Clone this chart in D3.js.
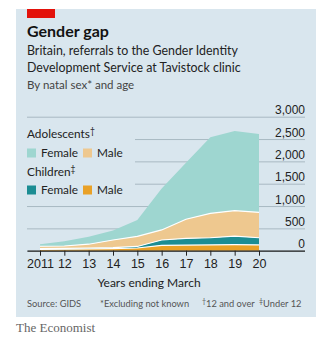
<!DOCTYPE html>
<html>
<head>
<meta charset="utf-8">
<script src="https://cdn.jsdelivr.net/npm/d3@7"></script>
<style>
  body { margin: 0; background: #fff; }
  svg { display: block; font-family: Lato, "Open Sans", sans-serif; }
</style>
</head>
<body>
<div id="chart"></div>
<script>
// referrals per year ending March, excluding sex not known
var years = [2011, 2012, 2013, 2014, 2015, 2016, 2017, 2018, 2019, 2020];
var yearLabels = ["2011", "12", "13", "14", "15", "16", "17", "18", "19", "20"];
var childMale = [30, 35, 40, 45, 60, 120, 125, 130, 135, 130];
var childFemale = [15, 15, 20, 25, 35, 120, 150, 160, 190, 160];
var adolMale = [55, 55, 85, 170, 225, 225, 430, 545, 570, 570];
var adolFemale = [45, 105, 165, 210, 370, 925, 1265, 1705, 1785, 1750];
var yTicks = [0, 500, 1000, 1500, 2000, 2500, 3000];

var keys = ["childMale", "childFemale", "adolMale", "adolFemale"];
var colors = { childMale: "#e9a127", childFemale: "#1c8d93", adolMale: "#eec88f", adolFemale: "#9ed6d0" };

var rows = years.map(function (y, i) {
	return { year: y, childMale: childMale[i], childFemale: childFemale[i], adolMale: adolMale[i], adolFemale: adolFemale[i] };
});

var W = 332, H = 353, bg = "#d9e6ee";
var svg = d3.select("#chart").append("svg").attr("width", W).attr("height", H);

// panel
svg.append("rect").attr("x", 16).attr("y", 9).attr("width", 300).attr("height", 308).attr("fill", bg);
svg.append("rect").attr("x", 27).attr("y", 9).attr("width", 28).attr("height", 9).attr("fill", "#e3120b");

svg.append("text").attr("x", 27).attr("y", 37).attr("font-size", 16).attr("font-weight", 700)
	.attr("fill", "#121212").text("Gender gap");
svg.append("text").attr("x", 27).attr("y", 55).attr("font-size", 12.4).attr("fill", "#222")
	.text("Britain, referrals to the Gender Identity");
svg.append("text").attr("x", 27).attr("y", 72).attr("font-size", 12.4).attr("fill", "#222")
	.text("Development Service at Tavistock clinic");
svg.append("text").attr("x", 27).attr("y", 89).attr("font-size", 11.5).attr("fill", "#444")
	.text("By natal sex* and age");

var x = d3.scaleLinear().domain([2011, 2020]).range([40, 259]);
var y = d3.scaleLinear().domain([0, 3000]).range([250.7, 116.7]);

// gridlines with labels sitting above them on the right
var grid = svg.append("g").attr("transform", "translate(305,0)")
	.call(d3.axisLeft(y).tickValues(yTicks).tickSize(278).tickFormat(d3.format(",")));
grid.select(".domain").remove();
grid.selectAll("line").attr("stroke", "#a9b9c3").attr("stroke-width", 1);
grid.selectAll("text").attr("x", 0).attr("dy", -3).attr("text-anchor", "end")
	.attr("font-size", 12).attr("fill", "#222").attr("font-family", null);

// clear the gridlines behind the legend
svg.append("rect").attr("x", 22).attr("y", 124).attr("width", 113).attr("height", 74).attr("fill", bg);

var series = d3.stack().keys(keys)(rows);

var area = d3.area()
	.x(function (d) { return x(d.data.year); })
	.y0(function (d) { return y(d[0]); })
	.y1(function (d) { return y(d[1]); });

svg.append("g").selectAll("path").data(series).enter().append("path")
	.attr("d", area)
	.attr("fill", function (d) { return colors[d.key]; });

var edge = d3.line()
	.x(function (d) { return x(d.data.year); })
	.y(function (d) { return y(d[1]); });

svg.append("g").selectAll("path").data(series.slice(0, 3)).enter().append("path")
	.attr("d", edge)
	.attr("fill", "none")
	.attr("stroke", "#fff")
	.attr("stroke-width", 1.2);

// x axis
var xa = svg.append("g").attr("transform", "translate(0,250.7)")
	.call(d3.axisBottom(x).tickValues(years).tickSize(5).tickFormat(function (d, i) { return yearLabels[i]; }));
xa.select(".domain").attr("d", "M27.5,0.5H305").attr("stroke", "#222").attr("stroke-width", 1.3);
xa.selectAll("line").attr("stroke", "#222");
xa.selectAll("text").attr("y", 17).attr("dy", null).attr("font-size", 12.5).attr("fill", "#222").attr("font-family", null);

svg.append("text").attr("x", 149).attr("y", 287).attr("text-anchor", "middle")
	.attr("font-size", 12).attr("fill", "#222").text("Years ending March");

// legend
var legend = svg.append("g").attr("font-size", 11.8).attr("fill", "#222");
var heads = [{ label: "Adolescents", mark: "\u2020", y: 138 }, { label: "Children", mark: "\u2021", y: 176 }];
heads.forEach(function (h) {
	var t = legend.append("text").attr("x", 27).attr("y", h.y).text(h.label);
	t.append("tspan").attr("font-size", 8.5).attr("dy", -4).text(h.mark);
});
var items = [
	{ key: "adolFemale", label: "Female", x: 27, y: 157 },
	{ key: "adolMale", label: "Male", x: 83, y: 157 },
	{ key: "childFemale", label: "Female", x: 27, y: 194 },
	{ key: "childMale", label: "Male", x: 83, y: 194 }
];
items.forEach(function (d) {
	legend.append("rect").attr("x", d.x).attr("y", d.y - 8.5).attr("width", 9).attr("height", 9).attr("fill", colors[d.key]);
	legend.append("text").attr("x", d.x + 14).attr("y", d.y).text(d.label);
});

// footnotes
var foot = svg.append("g").attr("font-size", 9.3).attr("fill", "#555");
foot.append("text").attr("x", 27).attr("y", 307).text("Source: GIDS");
foot.append("text").attr("x", 100).attr("y", 307).text("*Excluding not known");
var notes = [{ x: 202, mark: "\u2020", label: "12 and over" }, { x: 259, mark: "\u2021", label: "Under 12" }];
notes.forEach(function (n) {
	var t = foot.append("text").attr("x", n.x).attr("y", 307);
	t.append("tspan").attr("font-size", 7).attr("dy", -3).text(n.mark);
	t.append("tspan").attr("dy", 3).text(n.label);
});

svg.append("text").attr("x", 16).attr("y", 332).attr("font-size", 13)
	.attr("font-family", "'Liberation Serif', 'DejaVu Serif', serif").attr("fill", "#666")
	.text("The Economist");
</script>
</body>
</html>
